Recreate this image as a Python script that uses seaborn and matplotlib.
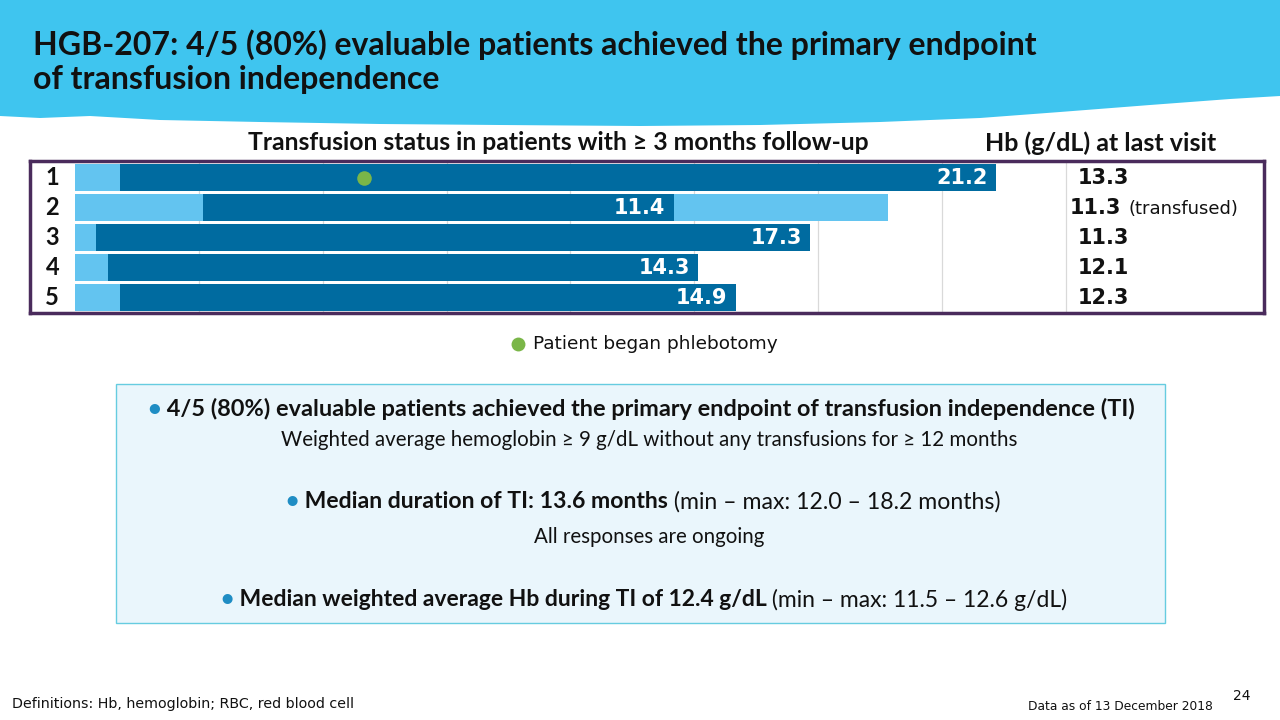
import numpy as np
import pandas as pd
import matplotlib
matplotlib.use("Agg")
import matplotlib.pyplot as plt
import seaborn as sns
from matplotlib.patches import Polygon, Rectangle
from matplotlib.lines import Line2D

# ---------------- data ----------------
patients = ["1", "2", "3", "4", "5"]
pre_ti = [1.1, 3.1, 0.5, 0.8, 1.1]            # months before TI (light segment)
ti_duration = [21.2, 11.4, 17.3, 14.3, 14.9]  # months of TI (dark segment, labelled)
post_ti = [0.0, 5.2, 0.0, 0.0, 0.0]           # months after TI ended (light segment)
hb_last = ["13.3", "11.3", "11.3", "12.1", "12.3"]
hb_note = ["", "(transfused)", "", "", ""]
phleb_row = [0]
phleb_month = [7.0]
grid_months = [3, 6, 9, 12, 15, 18, 21, 24]

LIGHT = "#63C4F0"
DARK = "#006BA0"
GREEN = "#7AB648"
HEADER = "#3FC5EF"
FRAME = "#4A2B5C"

df = pd.DataFrame({"patient": patients, "pre": pre_ti, "ti": ti_duration, "post": post_ti})
df["end_pre"] = df["pre"]
df["end_ti"] = df["pre"] + df["ti"]
df["end_post"] = df["end_ti"] + df["post"]

sns.set_theme(style="white")
plt.rcParams["font.family"] = ["DejaVu Sans"]
CAL = ["Lato", "DejaVu Sans"]

W, H = 1280, 720
fig = plt.figure(figsize=(12.8, 7.2), dpi=100)


def fx(px):
    return px / W


def fy(py):
    return 1 - py / H


# header brush band
band = [(0, 0), (1280, 0), (1280, 96), (1230, 99), (1150, 105), (1060, 112), (980, 118),
        (880, 122), (760, 125), (640, 126), (500, 125), (380, 124), (260, 122),
        (160, 120), (90, 116), (40, 118), (0, 116)]
fig.add_artist(Polygon([(fx(x), fy(y)) for x, y in band], closed=True,
                       transform=fig.transFigure, facecolor=HEADER, edgecolor="none", zorder=0))

fig.text(fx(33), fy(45), "HGB-207: 4/5 (80%) evaluable patients achieved the primary endpoint",
         family=CAL, fontweight="bold", fontsize=23, va="center", ha="left", color="#111111")
fig.text(fx(33), fy(80), "of transfusion independence",
         family=CAL, fontweight="bold", fontsize=23, va="center", ha="left", color="#111111")

# column headers
fig.text(fx(558), fy(143), "Transfusion status in patients with \u2265 3 months follow-up",
         family=CAL, fontweight="bold", fontsize=17.8, ha="center", va="center", color="#111111")
fig.text(fx(1101), fy(143), "Hb (g/dL) at last visit",
         family=CAL, fontweight="bold", fontsize=18, ha="center", va="center", color="#111111")

# ---------------- chart ----------------
ax = fig.add_axes([fx(30), fy(312.5), fx(1264) - fx(30), fy(160.5) - fy(312.5)])
post_df = df[df["post"] > 0]
sns.barplot(data=post_df, x="end_post", y="patient", order=patients, color=LIGHT,
            width=0.9, linewidth=0, errorbar=None, orient="h", ax=ax, saturation=1)
sns.barplot(data=df, x="end_ti", y="patient", order=patients, color=DARK,
            width=0.9, linewidth=0, errorbar=None, orient="h", ax=ax, saturation=1)
sns.barplot(data=df, x="end_pre", y="patient", order=patients, color=LIGHT,
            width=0.9, linewidth=0, errorbar=None, orient="h", ax=ax, saturation=1)
sns.scatterplot(x=phleb_month, y=phleb_row, color=GREEN, s=110, linewidth=0, ax=ax,
                zorder=5, legend=False)

ax.set_xlim(-1.09, 28.8)
ax.set_ylim(4.5, -0.567)
ax.set_xticks(grid_months)
ax.xaxis.grid(True, color="#D9D9D9", linewidth=0.9)
ax.yaxis.grid(False)
ax.set_axisbelow(True)
ax.tick_params(length=0, labelbottom=False, labelleft=False)
ax.set_xlabel("")
ax.set_ylabel("")
for sp in ax.spines.values():
    sp.set_visible(True)
    sp.set_color(FRAME)
    sp.set_linewidth(2.5)

for i, row in df.iterrows():
    ax.text(row["end_ti"] - 0.2, i, f"{row['ti']:.1f}", ha="right", va="center",
            color="white", fontsize=15, fontweight="bold")
    ax.text(-0.55, i, row["patient"], ha="center", va="center", fontsize=17,
            fontweight="bold", family=CAL, color="#111111")
    hx = 24.1 if hb_note[i] else 24.29
    t = ax.text(hx, i, hb_last[i], ha="left", va="center", fontsize=15,
                fontweight="bold", color="#111111")
    if hb_note[i]:
        ax.annotate(hb_note[i], xy=(1, 0), xycoords=t, xytext=(5, 0),
                    textcoords="offset points", ha="left", va="bottom",
                    fontsize=13, color="#111111")

# legend for phlebotomy
fig.add_artist(Line2D([fx(518)], [fy(344)], marker="o", markersize=10, color=GREEN,
                      markeredgewidth=0, linestyle="none", transform=fig.transFigure))
fig.text(fx(533), fy(344), "Patient began phlebotomy", fontsize=13.3, ha="left",
         va="center", color="#111111")

# ---------------- summary box ----------------
fig.add_artist(Rectangle((fx(116), fy(623)), fx(1165) - fx(116), fy(384) - fy(623),
                         transform=fig.transFigure, facecolor="#EAF6FC",
                         edgecolor="#66CCE0", linewidth=1.0))

BUL = "#1F8DC4"
renderer = fig.canvas.get_renderer()


def mixed_line(y_px, parts, size, center):
    texts = []
    for s, w, c in parts:
        texts.append(fig.text(0, fy(y_px), s, fontsize=size, fontweight=w, color=c,
                              va="center", ha="left", family=CAL))
    widths = [t.get_window_extent(renderer).width for t in texts]
    x = center - sum(widths) / 2
    for t, w in zip(texts, widths):
        t.set_x(fx(x))
        x += w


mixed_line(409, [("\u2022", "bold", BUL),
                 (" 4/5 (80%) evaluable patients achieved the primary endpoint of transfusion independence (TI)", "bold", "#111111")], 16.9, 641)
mixed_line(440, [("Weighted average hemoglobin \u2265 9 g/dL without any transfusions for \u2265 12 months", "normal", "#111111")], 14.8, 649)
mixed_line(502, [("\u2022", "bold", BUL),
                 (" Median duration of TI: 13.6 months", "bold", "#111111"),
                 (" (min \u2013 max: 12.0 \u2013 18.2 months)", "normal", "#111111")], 16.6, 643)
mixed_line(537, [("All responses are ongoing", "normal", "#111111")], 14.8, 649)
mixed_line(600, [("\u2022", "bold", BUL),
                 (" Median weighted average Hb during TI of 12.4 g/dL", "bold", "#111111"),
                 (" (min \u2013 max: 11.5 \u2013 12.6 g/dL)", "normal", "#111111")], 16.5, 644)

# ---------------- footer ----------------
fig.text(fx(12), fy(704), "Definitions: Hb, hemoglobin; RBC, red blood cell", fontsize=10.3,
         ha="left", va="center", color="#111111")
fig.text(fx(1213), fy(706), "Data as of 13 December 2018", fontsize=8.8,
         ha="right", va="center", color="#111111")
fig.text(fx(1250), fy(696), "24", fontsize=10, ha="right", va="center", color="#111111")

fig.savefig("out.png", dpi=100)
